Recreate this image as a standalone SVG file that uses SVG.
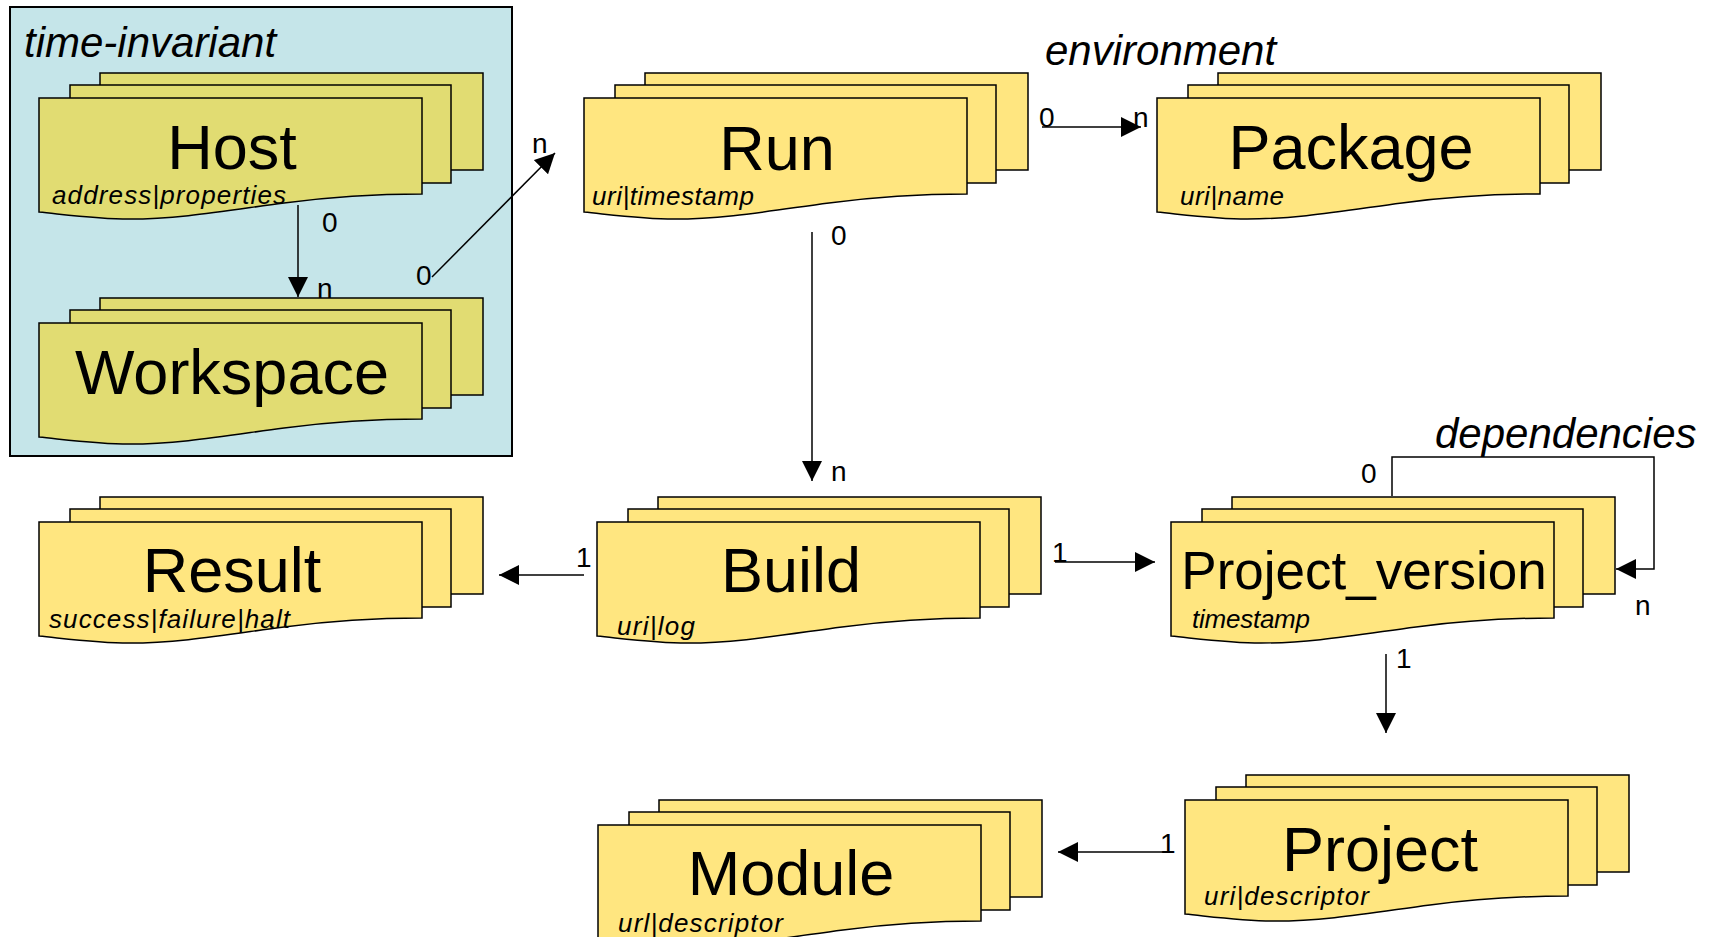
<svg xmlns="http://www.w3.org/2000/svg" xmlns:xlink="http://www.w3.org/1999/xlink" width="1711" height="937" viewBox="0 0 1711 937">
<style>
  text { font-family: "Liberation Sans", Arial, Helvetica, sans-serif; fill: #000; }
  .title { font-size: 63px; text-anchor: middle; }
  .pv { font-size: 53px; }
  .sub { font-size: 26px; font-style: italic; }
  .lbl { font-size: 42px; font-style: italic; }
  .card { font-size: 28px; }
  .yel { fill: #ffe680; stroke: #000; stroke-width: 1.5; }
  .olv { fill: #e1dc72; stroke: #000; stroke-width: 1.5; }
  .conn { fill: none; stroke: #000; stroke-width: 1.5; }
  .arrow { marker-end: url(#ah); }
</style>
<defs>
  <marker id="ah" viewBox="0 0 20 20" refX="20" refY="10" markerWidth="20" markerHeight="20" markerUnits="userSpaceOnUse" orient="auto">
    <path d="M0,0 L20,10 L0,20 Z" fill="#000"/>
  </marker>
  <g id="stack">
    <rect x="61" y="-25" width="383" height="97"/>
    <rect x="31" y="-13" width="381" height="98"/>
    <path d="M0,0 H383 V96 C330,96 290,99 245,105 C185,113 140,121 90,121 C60,121 30,117 0,114 Z"/>
  </g>
</defs>

<rect width="1711" height="937" fill="#fff"/>

<g id="time-invariant">
  <rect x="10" y="7" width="502" height="449" fill="#c5e5e9" stroke="#000" stroke-width="2"/>
  <text class="lbl" x="24" y="57">time-invariant</text>
</g>

<g id="connectors">
  <line class="conn arrow" x1="298" y1="205" x2="298" y2="297"/>
  <text class="card" x="322" y="232">0</text>
  <text class="card" x="317" y="298">n</text>

  <line class="conn arrow" x1="432" y1="277" x2="555" y2="153"/>
  <text class="card" x="416" y="285">0</text>
  <text class="card" x="532" y="153">n</text>

  <line class="conn arrow" x1="1042" y1="127" x2="1141" y2="127"/>
  <text class="card" x="1039" y="127">0</text>
  <text class="card" x="1133" y="127">n</text>
  <text class="lbl" x="1045" y="65">environment</text>

  <line class="conn arrow" x1="812" y1="232" x2="812" y2="481"/>
  <text class="card" x="831" y="245">0</text>
  <text class="card" x="831" y="481">n</text>

  <line class="conn arrow" x1="584" y1="575" x2="499" y2="575"/>
  <text class="card" x="576" y="567">1</text>

  <line class="conn arrow" x1="1055" y1="562" x2="1155" y2="562"/>
  <text class="card" x="1052" y="562">1</text>

  <line class="conn arrow" x1="1386" y1="654" x2="1386" y2="733"/>
  <text class="card" x="1396" y="668">1</text>

  <line class="conn arrow" x1="1172" y1="852" x2="1058" y2="852"/>
  <text class="card" x="1160" y="853">1</text>

  <path class="conn arrow" d="M1392,496 V457 H1654 V569 H1616"/>
  <text class="card" x="1361" y="483">0</text>
  <text class="card" x="1635" y="615">n</text>
  <text class="lbl" x="1435" y="448">dependencies</text>
</g>

<g id="host">
  <use xlink:href="#stack" href="#stack" class="olv" transform="translate(39,98)"/>
  <text class="title" x="232" y="169">Host</text>
  <text class="sub" x="52" y="204" textLength="234">address|properties</text>
</g>

<g id="workspace">
  <use xlink:href="#stack" href="#stack" class="olv" transform="translate(39,323)"/>
  <text class="title" x="232" y="394">Workspace</text>
</g>

<g id="run">
  <use xlink:href="#stack" href="#stack" class="yel" transform="translate(584,98)"/>
  <text class="title" x="777" y="170">Run</text>
  <text class="sub" x="592" y="205" textLength="162">uri|timestamp</text>
</g>

<g id="package">
  <use xlink:href="#stack" href="#stack" class="yel" transform="translate(1157,98)"/>
  <text class="title" x="1351" y="169">Package</text>
  <text class="sub" x="1180" y="205" textLength="104">uri|name</text>
</g>

<g id="result">
  <use xlink:href="#stack" href="#stack" class="yel" transform="translate(39,522)"/>
  <text class="title" x="232" y="592">Result</text>
  <text class="sub" x="49" y="628" textLength="241">success|failure|halt</text>
</g>

<g id="build">
  <use xlink:href="#stack" href="#stack" class="yel" transform="translate(597,522)"/>
  <text class="title" x="791" y="592">Build</text>
  <text class="sub" x="617" y="635" textLength="78">uri|log</text>
</g>

<g id="project_version">
  <use xlink:href="#stack" href="#stack" class="yel" transform="translate(1171,522)"/>
  <text class="title pv" x="1364" y="589">Project_version</text>
  <text class="sub" x="1192" y="628" textLength="118">timestamp</text>
</g>

<g id="project">
  <use xlink:href="#stack" href="#stack" class="yel" transform="translate(1185,800)"/>
  <text class="title" x="1380" y="871">Project</text>
  <text class="sub" x="1204" y="905" textLength="165">uri|descriptor</text>
</g>

<g id="module">
  <use xlink:href="#stack" href="#stack" class="yel" transform="translate(598,825)"/>
  <text class="title" x="791" y="895">Module</text>
  <text class="sub" x="618" y="932" textLength="165">url|descriptor</text>
</g>
</svg>
